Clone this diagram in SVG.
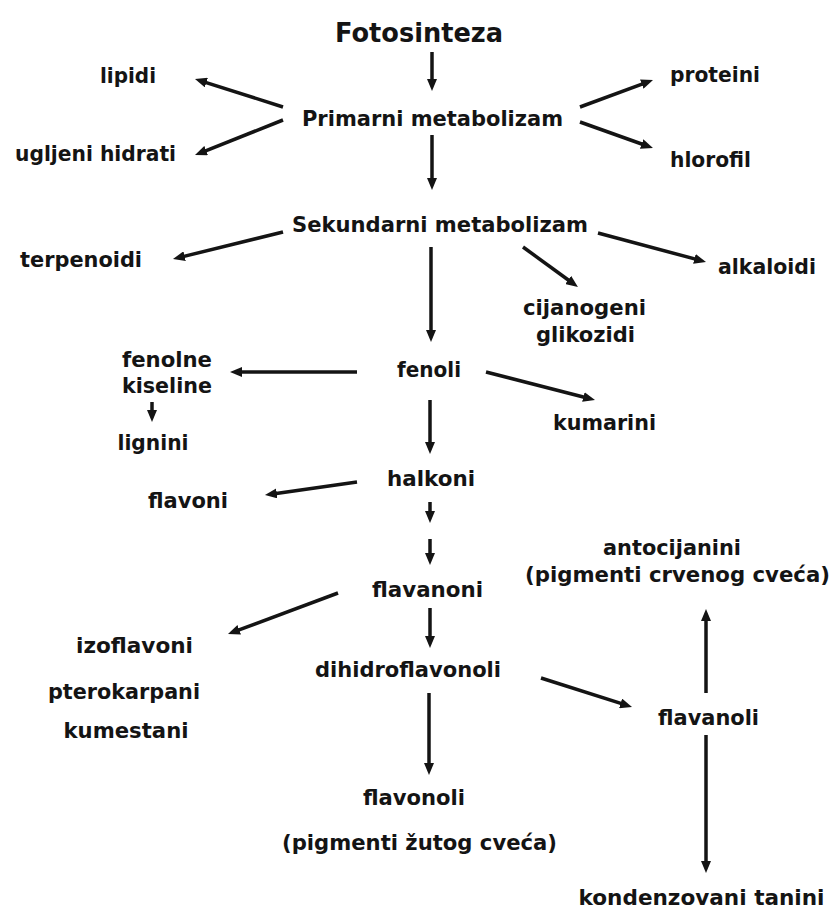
<svg xmlns="http://www.w3.org/2000/svg" width="833" height="918" viewBox="0 0 833 918">
<defs>
<style>
text{font-family:"DejaVu Sans","Liberation Sans",sans-serif;font-weight:bold;font-size:21px;fill:#141414;text-anchor:middle}
.title{font-size:26px}
.c line{stroke:#141414;stroke-width:3.5;fill:none;marker-end:url(#ah)}
</style>
<marker id="ah" markerUnits="userSpaceOnUse" markerWidth="12" markerHeight="10" refX="6" refY="5" orient="auto">
<path d="M0,0 L12,5 L0,10 z" fill="#141414"/>
</marker>
</defs>
<rect width="833" height="918" fill="#fff"/>
<g id="connectors" class="c">
<line x1="432" y1="52" x2="432" y2="85"/>
<line x1="283" y1="107" x2="200.7" y2="80.8"/>
<line x1="283" y1="120" x2="200.6" y2="152.8"/>
<line x1="580" y1="107" x2="647.4" y2="82.1"/>
<line x1="580" y1="122" x2="647.3" y2="146"/>
<line x1="432" y1="135" x2="432" y2="184"/>
<line x1="283" y1="232" x2="178.8" y2="257.6"/>
<line x1="598" y1="233" x2="700.2" y2="260.4"/>
<line x1="523" y1="247" x2="573.1" y2="283.5"/>
<line x1="431" y1="247" x2="431" y2="336"/>
<line x1="357" y1="372" x2="236" y2="372"/>
<line x1="152" y1="402" x2="152" y2="416"/>
<line x1="486" y1="372" x2="589.2" y2="398.5"/>
<line x1="430" y1="400" x2="430" y2="448"/>
<line x1="357" y1="482" x2="270.9" y2="494.2"/>
<line x1="430" y1="502" x2="430" y2="517"/>
<line x1="430" y1="539" x2="430" y2="559"/>
<line x1="338" y1="593" x2="233.6" y2="631.9"/>
<line x1="430" y1="608" x2="430" y2="642"/>
<line x1="429" y1="693" x2="429" y2="769"/>
<line x1="541" y1="678" x2="626.3" y2="705.2"/>
<line x1="706" y1="693" x2="706" y2="615"/>
<line x1="706" y1="735" x2="706" y2="867"/>
</g>
<g id="fotosinteza"><text class="title" x="419" y="42" textLength="168" lengthAdjust="spacingAndGlyphs">Fotosinteza</text></g>
<g id="lipidi"><text x="128" y="83" textLength="56" lengthAdjust="spacingAndGlyphs">lipidi</text></g>
<g id="proteini"><text x="715" y="82" textLength="90" lengthAdjust="spacingAndGlyphs">proteini</text></g>
<g id="primarni"><text x="432.5" y="126" textLength="261" lengthAdjust="spacingAndGlyphs">Primarni metabolizam</text></g>
<g id="ugljeni"><text x="95.5" y="161" textLength="161" lengthAdjust="spacingAndGlyphs">ugljeni hidrati</text></g>
<g id="hlorofil"><text x="710.5" y="167" textLength="81" lengthAdjust="spacingAndGlyphs">hlorofil</text></g>
<g id="sekundarni"><text x="440" y="232" textLength="296" lengthAdjust="spacingAndGlyphs">Sekundarni metabolizam</text></g>
<g id="terpenoidi"><text x="81" y="267" textLength="122" lengthAdjust="spacingAndGlyphs">terpenoidi</text></g>
<g id="alkaloidi"><text x="767" y="274" textLength="98" lengthAdjust="spacingAndGlyphs">alkaloidi</text></g>
<g id="cijanogeni"><text x="584.5" y="315" textLength="123" lengthAdjust="spacingAndGlyphs">cijanogeni</text><text x="585.5" y="342" textLength="99" lengthAdjust="spacingAndGlyphs">glikozidi</text></g>
<g id="fenolne"><text x="167" y="367" textLength="90" lengthAdjust="spacingAndGlyphs">fenolne</text><text x="167" y="393" textLength="90" lengthAdjust="spacingAndGlyphs">kiseline</text></g>
<g id="fenoli"><text x="429" y="377" textLength="64" lengthAdjust="spacingAndGlyphs">fenoli</text></g>
<g id="lignini"><text x="153" y="450" textLength="71" lengthAdjust="spacingAndGlyphs">lignini</text></g>
<g id="kumarini"><text x="604.5" y="430" textLength="103" lengthAdjust="spacingAndGlyphs">kumarini</text></g>
<g id="halkoni"><text x="431" y="486" textLength="88" lengthAdjust="spacingAndGlyphs">halkoni</text></g>
<g id="flavoni"><text x="188" y="508" textLength="80" lengthAdjust="spacingAndGlyphs">flavoni</text></g>
<g id="antocijanini"><text x="672" y="555" textLength="138" lengthAdjust="spacingAndGlyphs">antocijanini</text><text x="677.5" y="582" textLength="305" lengthAdjust="spacingAndGlyphs">(pigmenti crvenog cveća)</text></g>
<g id="flavanoni"><text x="427.5" y="597" textLength="111" lengthAdjust="spacingAndGlyphs">flavanoni</text></g>
<g id="izoflavoni"><text x="134.5" y="653" textLength="117" lengthAdjust="spacingAndGlyphs">izoflavoni</text></g>
<g id="dihidroflavonoli"><text x="408" y="677" textLength="186" lengthAdjust="spacingAndGlyphs">dihidroflavonoli</text></g>
<g id="pterokarpani"><text x="124" y="699" textLength="152" lengthAdjust="spacingAndGlyphs">pterokarpani</text></g>
<g id="kumestani"><text x="126" y="738" textLength="125" lengthAdjust="spacingAndGlyphs">kumestani</text></g>
<g id="flavanoli"><text x="708.5" y="725" textLength="101" lengthAdjust="spacingAndGlyphs">flavanoli</text></g>
<g id="flavonoli"><text x="414" y="805" textLength="102" lengthAdjust="spacingAndGlyphs">flavonoli</text><text x="419.5" y="850" textLength="275" lengthAdjust="spacingAndGlyphs">(pigmenti žutog cveća)</text></g>
<g id="kondenzovani"><text x="701.5" y="905" textLength="246" lengthAdjust="spacingAndGlyphs">kondenzovani tanini</text></g>
</svg>
